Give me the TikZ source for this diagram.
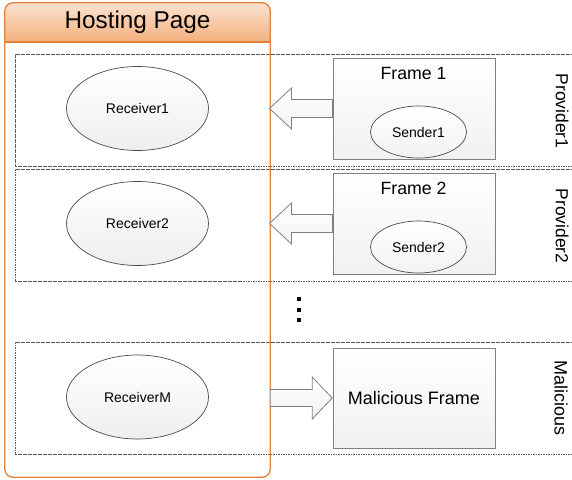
\documentclass[tikz,border=0pt]{standalone}
\usepackage{fontspec}
\setmainfont{Liberation Sans}
\usetikzlibrary{calc,shadows,shapes.geometric}
\definecolor{hostorange}{HTML}{E2813C}
\definecolor{headtop}{HTML}{FBE2CF}
\definecolor{headbot}{HTML}{F3AF7C}
\definecolor{boxline}{HTML}{808080}
\definecolor{ellline}{HTML}{4A4A4A}
\definecolor{laneline}{HTML}{5A5A5A}
\begin{document}
\begin{tikzpicture}[x=1pt,y=-1pt,
  lane/.style={draw=laneline, line width=0.7pt, dash pattern=on 1.6pt off 0.9pt},
  framebox/.style={draw=boxline, line width=1pt, top color=white, bottom color=gray!11,
    minimum width=162pt, minimum height=101pt, inner sep=0pt,
    drop shadow={shadow xshift=1.2pt, shadow yshift=-1.2pt, opacity=0.3}},
  recv/.style={ellipse, draw=ellline, line width=0.7pt, top color=white, bottom color=gray!13,
    minimum width=142pt, minimum height=84pt, inner sep=0pt, font=\fontsize{14}{16}\selectfont},
  send/.style={ellipse, draw=ellline, line width=0.7pt, top color=white, bottom color=gray!10,
    minimum width=96pt, minimum height=52pt, inner sep=0pt, font=\fontsize{14}{16}\selectfont},
  blockarrow/.style={draw=boxline, line width=0.8pt, top color=white, bottom color=gray!10, line join=miter},
  sidelabel/.style={rotate=-90, font=\fontsize{17.5}{20}\selectfont, inner sep=0pt},
  frametitle/.style={font=\fontsize{17.7}{20}\selectfont, inner sep=0pt},
  dot/.style={fill=black}
]
\useasboundingbox (0,0) rectangle (572,479);

% lanes
\draw[lane] (575,54) -- (15,54) -- (15,166) -- (575,166);
\draw[lane] (575,169) -- (15,169) -- (15,281) -- (575,281);
\draw[lane] (575,342) -- (15,342) -- (15,454) -- (575,454);

% hosting page
\node[draw=none, minimum width=265pt, minimum height=474pt, inner sep=0pt] (host) at (137.5,240) {};
\begin{scope}
  \clip[rounded corners=8pt] (host.north west) rectangle (host.south east);
  \shade[top color=headtop, bottom color=headbot] (5,3) rectangle (270,42);
\end{scope}
\draw[hostorange, line width=1.3pt, rounded corners=8pt] (host.north west) rectangle (host.south east);
\draw[hostorange, line width=1.3pt] (5,42) -- (270,42);
\node[font=\fontsize{24.3}{28}\selectfont, inner sep=0pt] (hosttitle) at (137.5,22.5) {Hosting Page};

% receivers
\node[recv] (r1) at (137.5,108.5) {Receiver1};
\node[recv] (r2) at (137.5,223.5) {Receiver2};
\node[recv] (rm) at (137.5,397) {ReceiverM};

% frames
\node[framebox] (f1) at (414,108.5) {};
\node[frametitle] (f1t) at (413.5,73.5) {Frame 1};
\node[send] (s1) at (418.5,132) {Sender1};

\node[framebox] (f2) at (414,223.5) {};
\node[frametitle] (f2t) at (413.5,188.5) {Frame 2};
\node[send] (s2) at (418.5,247) {Sender2};

\node[framebox, minimum height=100pt, font=\fontsize{18}{21}\selectfont] (mf) at (414,398) {Malicious Frame};

% arrows
\draw[blockarrow] ($(f1.west)+(0,-9)$) -- ++(-41,0) -- ++(0,-11.5) -- ++(-22,20.5) -- ++(22,20.5) -- ++(0,-11.5) -- ++(41,0) -- cycle;
\draw[blockarrow] ($(f2.west)+(0,-9)$) -- ++(-41,0) -- ++(0,-11.5) -- ++(-22,20.5) -- ++(22,20.5) -- ++(0,-11.5) -- ++(41,0) -- cycle;
\coordinate (mstart) at (host.east |- mf.west);
\draw[blockarrow] ($(mstart)+(0,-8.5)$) -- ++(42,0) -- ++(0,-12.5) -- ++(20,21) -- ++(-20,21) -- ++(0,-12.5) -- ++(-42,0) -- cycle;

% side labels
\node[sidelabel] (p1) at (562,111) {Provider1};
\node[sidelabel] (p2) at (562,226) {Provider2};
\node[sidelabel, font=\fontsize{18}{20}\selectfont] (pm) at (561,398) {Malicious};

% vertical dots
\fill[dot] (297,297) rectangle ++(4,4);
\fill[dot] (297,307.5) rectangle ++(4,4);
\fill[dot] (297,318) rectangle ++(4,4);
\end{tikzpicture}
\end{document}
